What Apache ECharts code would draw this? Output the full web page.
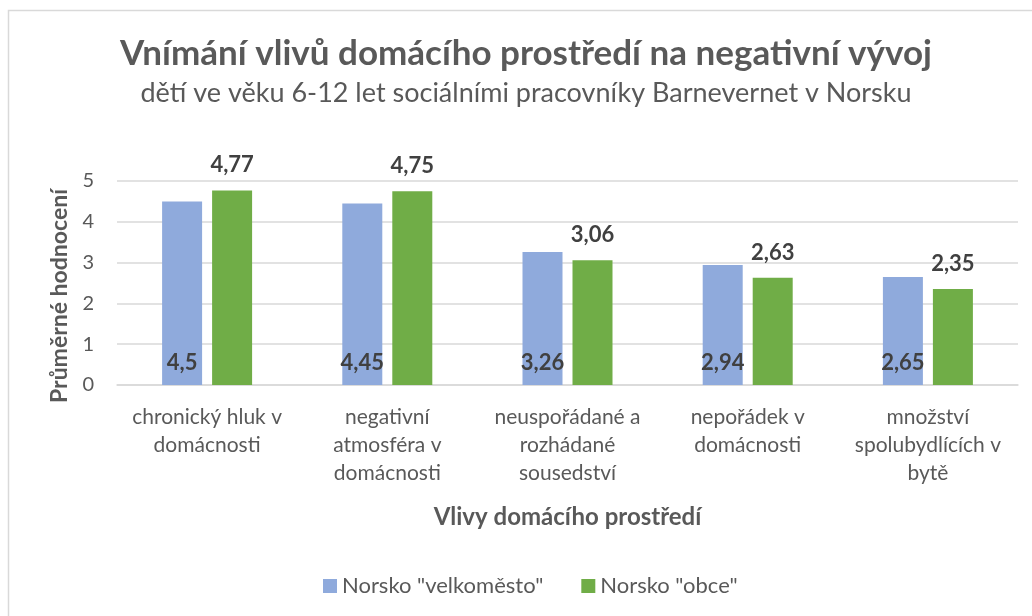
<!DOCTYPE html>
<html>
<head>
<meta charset="utf-8">
<script src="https://cdn.jsdelivr.net/npm/echarts@6/dist/echarts.min.js"></script>
<style>
  html, body { margin: 0; padding: 0; background: #fff; }
  #chart { width: 1032px; height: 616px; }
</style>
</head>
<body>
<div id="chart"></div>
<script>
var categories = [
  'chronický hluk v\ndomácnosti',
  'negativní\natmosféra v\ndomácnosti',
  'neuspořádané a\nrozhádané\nsousedství',
  'nepořádek v\ndomácnosti',
  'množství\nspolubydlících v\nbytě'
];
var seriesNames = ['Norsko "velkoměsto"', 'Norsko "obce"'];
var velkomesto = [4.5, 4.45, 3.26, 2.94, 2.65];
var obce = [4.77, 4.75, 3.06, 2.63, 2.35];
var yTicks = [0, 1, 2, 3, 4, 5];

var font = 'Lato, "Noto Sans", sans-serif';
var chart = echarts.init(document.getElementById('chart'));

// desetinná čárka
function fmt(p) {
  return String(p.value).replace('.', ',');
}

var option = {
  backgroundColor: '#fff',
  textStyle: { fontFamily: font },
  graphic: [{
    type: 'rect',
    shape: { x: 8.5, y: 10.5, width: 1100, height: 700 },
    style: { fill: 'none', stroke: '#d9d9d9', lineWidth: 1.5 },
    silent: true
  }],
  title: {
    text: 'Vnímání vlivů domácího prostředí na negativní vývoj',
    subtext: 'dětí ve věku 6-12 let sociálními pracovníky Barnevernet v Norsku',
    left: 521,
    textAlign: 'center',
    top: 31,
    itemGap: 9,
    textStyle: { fontFamily: font, fontSize: 35, fontWeight: 'bold', color: '#595959' },
    subtextStyle: { fontFamily: font, fontSize: 27, color: '#595959' }
  },
  legend: {
    data: seriesNames,
    top: 570,
    left: 318,
    itemWidth: 14,
    itemHeight: 14,
    itemGap: 38,
    icon: 'rect',
    textStyle: { fontFamily: font, fontSize: 22, color: '#595959' }
  },
  grid: { left: 117, right: 14, top: 181, bottom: 231 },
  xAxis: {
    type: 'category',
    data: categories,
    name: 'Vlivy domácího prostředí',
    nameLocation: 'middle',
    nameGap: 120,
    nameTextStyle: { fontFamily: font, fontSize: 24, fontWeight: 'bold', color: '#595959' },
    axisLine: { lineStyle: { color: '#d9d9d9', width: 1.5 } },
    axisTick: { show: false },
    axisLabel: {
      interval: 0,
      margin: 18,
      fontFamily: font,
      fontSize: 21,
      lineHeight: 28,
      color: '#595959',
      align: 'center'
    }
  },
  yAxis: {
    type: 'value',
    min: yTicks[0],
    max: yTicks[yTicks.length - 1],
    interval: 1,
    name: 'Průměrné hodnocení',
    nameLocation: 'middle',
    nameGap: 45,
    nameRotate: 90,
    nameTextStyle: {
      fontFamily: font, fontSize: 23, fontWeight: 'bold', color: '#595959',
      padding: [0, 26, 0, 0]
    },
    axisLine: { show: false },
    axisTick: { show: false },
    axisLabel: { fontFamily: font, fontSize: 20, color: '#595959', margin: 23 },
    splitLine: { lineStyle: { color: '#d9d9d9', width: 1.5 } }
  },
  series: [
    {
      name: seriesNames[0],
      type: 'bar',
      data: velkomesto,
      barWidth: 40,
      barGap: '25%',
      itemStyle: { color: '#8faadc' },
      label: {
        show: true,
        position: 'insideBottom',
        distance: 11,
        formatter: fmt,
        fontFamily: font,
        fontSize: 22,
        fontWeight: 'bold',
        color: '#404040'
      }
    },
    {
      name: seriesNames[1],
      type: 'bar',
      data: obce,
      barWidth: 40,
      itemStyle: { color: '#70ad47' },
      label: {
        show: true,
        position: 'top',
        distance: 14,
        formatter: fmt,
        fontFamily: font,
        fontSize: 22,
        fontWeight: 'bold',
        color: '#404040'
      }
    }
  ]
};
chart.setOption(option);
</script>
</body>
</html>
